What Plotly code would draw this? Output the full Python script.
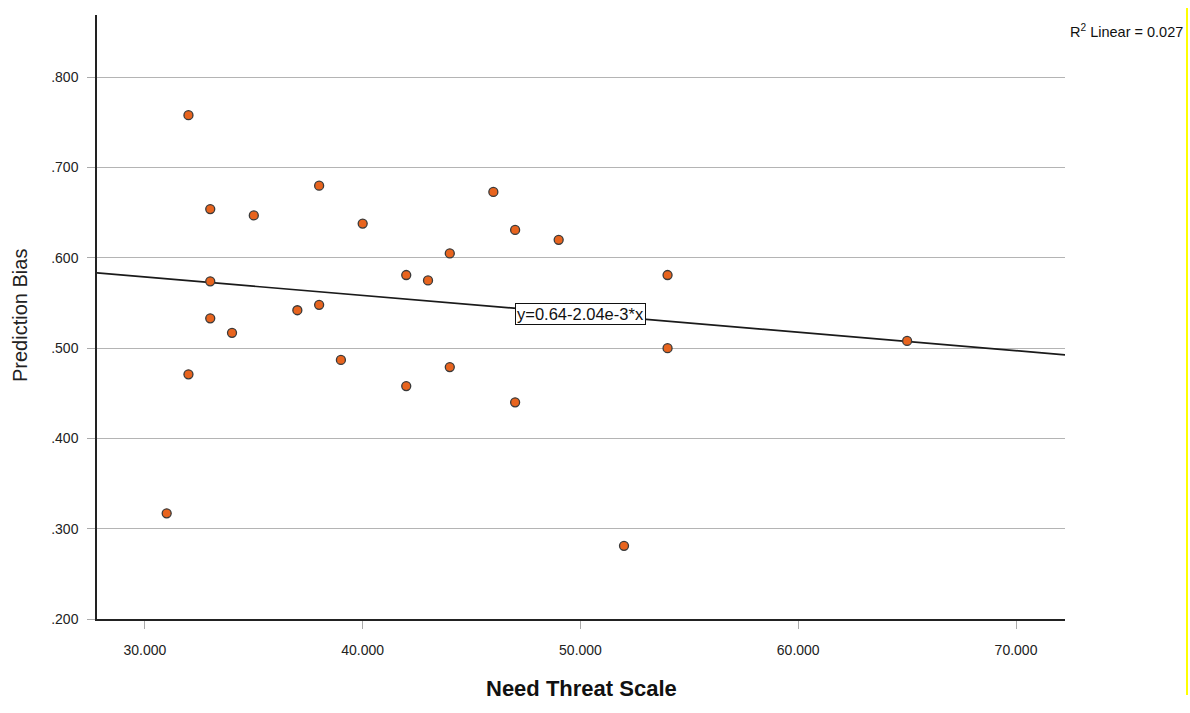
import plotly.graph_objects as go

# Need Threat Scale scores and prediction bias per participant
need_threat = [32, 33, 35, 33, 33, 34, 32, 31, 38, 40, 37, 38, 39,
               42, 43, 42, 44, 44, 46, 47, 47, 49, 54, 54, 52, 65]
prediction_bias = [0.758, 0.654, 0.647, 0.574, 0.533, 0.517, 0.471, 0.317,
                   0.680, 0.638, 0.542, 0.548, 0.487, 0.581, 0.575, 0.458,
                   0.605, 0.479, 0.673, 0.631, 0.440, 0.620, 0.581, 0.500,
                   0.281, 0.508]

# Linear fit reported on the chart
intercept = 0.64
slope = -2.04e-3
r_squared = 0.027

x_range = [27.8, 72.25]
y_range = [0.2, 0.869]
x_ticks = [30, 40, 50, 60, 70]
x_tick_text = ["30.000", "40.000", "50.000", "60.000", "70.000"]
y_ticks = [0.2, 0.3, 0.4, 0.5, 0.6, 0.7, 0.8]
y_tick_text = [".200", ".300", ".400", ".500", ".600", ".700", ".800"]

font_family = "Liberation Sans, Arial, sans-serif"

W, H = 1190, 713
M_L, M_R, M_T, M_B = 97, 3, 15, 94
plot_w = W - M_L - M_R
plot_h = H - M_T - M_B

fig = go.Figure()

fit_x = x_range
fit_y = [intercept + slope * v for v in fit_x]
fig.add_trace(go.Scatter(
    x=fit_x, y=fit_y, mode="lines",
    line=dict(color="#1a1a1a", width=1.7),
    hoverinfo="skip", showlegend=False,
))

fig.add_trace(go.Scatter(
    x=need_threat, y=prediction_bias, mode="markers",
    marker=dict(size=9, color="#E8641E",
                line=dict(color="#3a3a3a", width=1.3)),
    showlegend=False,
))

# Equation label sitting on the fit line
eq_x = 50
fig.add_annotation(
    x=eq_x, y=intercept + slope * eq_x, xref="x", yref="y",
    text="y=0.64-2.04e-3*x", showarrow=False,
    font=dict(family=font_family, size=16.5, color="#111111"),
    bgcolor="white", bordercolor="#111111", borderwidth=1, borderpad=1,
)

# R-squared note in the top-right corner
fig.add_annotation(
    x=1.0, y=(H - M_B - 31) / plot_h, xref="paper", yref="paper",
    xanchor="right", yanchor="middle", xshift=-2,
    text="R<sup>2</sup> Linear = 0.027", showarrow=False,
    font=dict(family=font_family, size=14.5, color="#111111"),
)

# Axis titles
fig.add_annotation(
    x=(581 - M_L) / plot_w, y=(H - M_B - 688) / plot_h,
    xref="paper", yref="paper", xanchor="center", yanchor="middle",
    text="<b>Need Threat Scale</b>", showarrow=False,
    font=dict(family=font_family, size=22, color="#111111"),
)
fig.add_annotation(
    x=(20 - M_L) / plot_w, y=(H - M_B - 316) / plot_h,
    xref="paper", yref="paper", xanchor="center", yanchor="middle",
    text="Prediction Bias", showarrow=False, textangle=-90,
    font=dict(family=font_family, size=20, color="#222222"),
)

# thin yellow frame edge at the right
fig.add_shape(
    type="line", xref="paper", yref="paper",
    x0=1.0, x1=1.0,
    y0=(H - M_B - 695) / plot_h, y1=(H - M_B - 8) / plot_h,
    line=dict(color="#ffff00", width=2),
)

fig.update_layout(
    width=W, height=H,
    margin=dict(l=M_L, r=M_R, t=M_T, b=M_B),
    paper_bgcolor="white", plot_bgcolor="white",
    font=dict(family=font_family, size=14, color="#222222"),
    xaxis=dict(
        domain=[0, 968 / plot_w],
        range=x_range, tickvals=x_ticks, ticktext=x_tick_text,
        showgrid=False, zeroline=False,
        showline=True, linecolor="#222222", linewidth=1.5,
        ticks="outside", ticklen=8, tickcolor="#aaaaaa", tickwidth=1,
        ticklabelstandoff=9,
        tickfont=dict(size=14, color="#222222"),
    ),
    yaxis=dict(
        range=y_range, tickvals=y_ticks, ticktext=y_tick_text,
        showgrid=True, gridcolor="#b4b4b4", gridwidth=1,
        zeroline=False,
        showline=True, linecolor="#222222", linewidth=1.5,
        ticks="outside", ticklen=8, tickcolor="#aaaaaa", tickwidth=1,
        ticklabelstandoff=6,
        tickfont=dict(size=14, color="#222222"),
    ),
)

fig.write_html("out.html")
